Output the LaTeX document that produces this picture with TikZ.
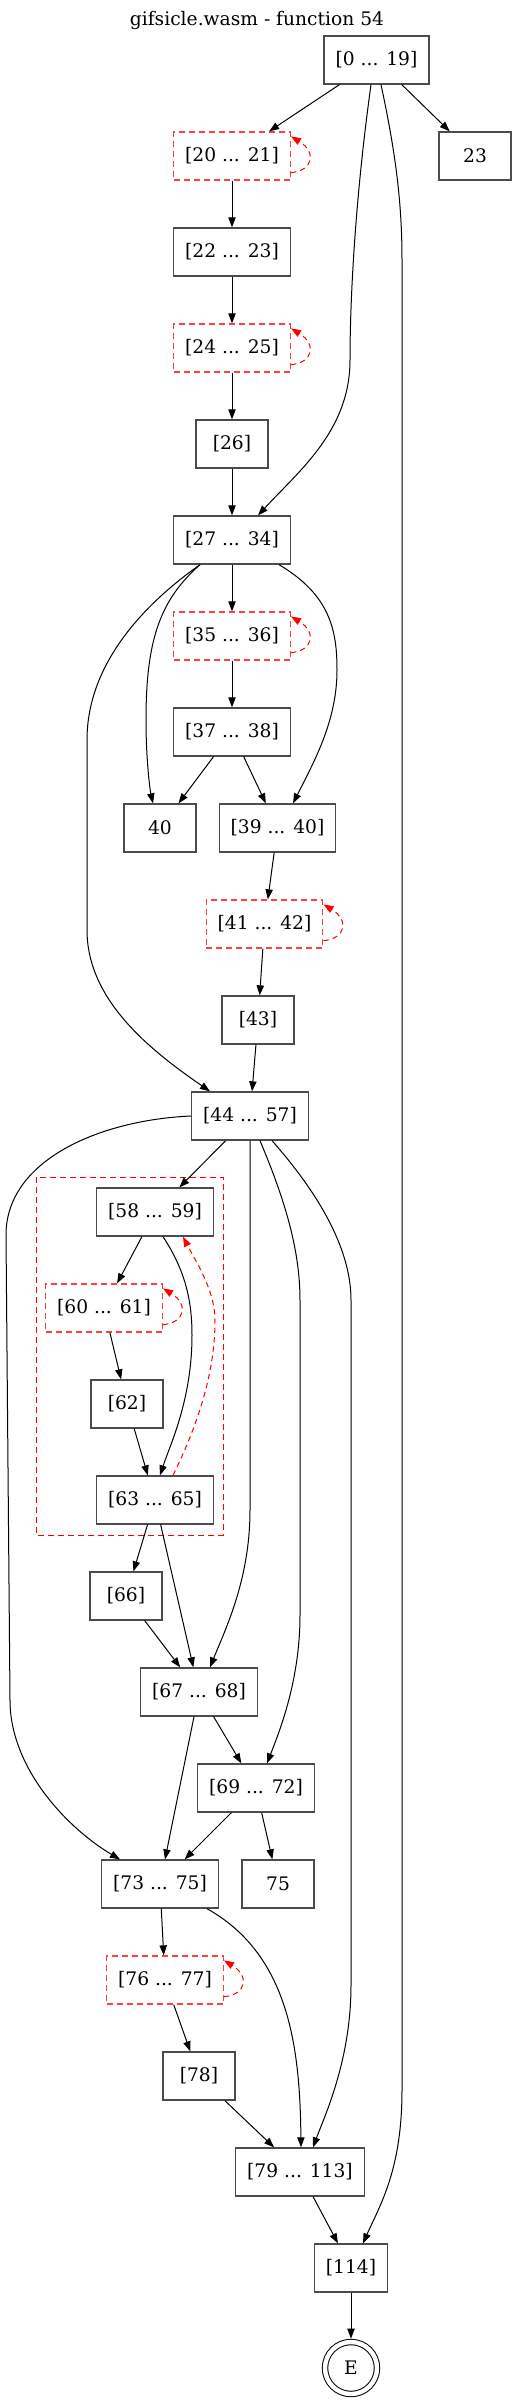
\documentclass[tikz,border=0pt]{standalone}
\usepackage{fontspec}
\setmainfont{DejaVu Serif}
\usetikzlibrary{arrows.meta,calc}
\begin{document}
\begin{tikzpicture}[x = 0.75pt, y = -0.75pt,
            font = \fontsize{14}{16}\selectfont,
            blk/.style = {draw = black!70, line width = 1pt, minimum height = 36pt, minimum width = 54pt, inner xsep = 8.6pt},
            redblk/.style = {blk, draw = red!75, dash pattern = on 4.5pt off 3pt},
            flow/.style = {line width = 0.75pt, -{Triangle[length = 7.5pt, width = 5.5pt]}},
            back/.style = {flow, red, dash pattern = on 4pt off 3pt},
            exitnode/.style = {circle, draw, double, double distance = 3.3pt, line width = 0.75pt, minimum size = 39pt, outer sep = 2.5pt}]
            \useasboundingbox (0, 0) rectangle (516, 2404);
            \node (title) at (257, 20) {gifsicle.wasm - function 54};
            \draw [red, line width = 0.75pt, dash pattern = on 4.5pt off 3pt] (36, 1177) rectangle (223, 1535);
            \node [blk] (n0) at (376.5, 60) {[0 ... 19]};
            \node [redblk] (n20) at (232, 156) {[20 ... 21]};
            \node [blk] (n23) at (475, 156) {23};
            \node [blk] (n22) at (232, 252) {[22 ... 23]};
            \node [redblk] (n24) at (232, 348) {[24 ... 25]};
            \node [blk] (n26) at (232, 444) {[26]};
            \node [blk] (n27) at (232, 540) {[27 ... 34]};
            \node [redblk] (n35) at (232, 636) {[35 ... 36]};
            \node [blk] (n37) at (232, 732) {[37 ... 38]};
            \node [blk] (n40) at (160, 828) {40};
            \node [blk] (n39) at (277.5, 828) {[39 ... 40]};
            \node [redblk] (n41) at (264.5, 924) {[41 ... 42]};
            \node [blk] (n43) at (258, 1020) {[43]};
            \node [blk] (n44) at (250, 1116) {[44 ... 57]};
            \node [blk] (n58) at (155, 1212) {[58 ... 59]};
            \node [redblk] (n60) at (104, 1308) {[60 ... 61]};
            \node [blk] (n62) at (127, 1404) {[62]};
            \node [blk] (n63) at (155, 1500) {[63 ... 65]};
            \node [blk] (n66) at (126, 1596) {[66]};
            \node [blk] (n67) at (199, 1692) {[67 ... 68]};
            \node [blk] (n69) at (256, 1788) {[69 ... 72]};
            \node [blk] (n73) at (160, 1884) {[73 ... 75]};
            \node [blk] (n75) at (278, 1884) {75};
            \node [redblk] (n76) at (165, 1980) {[76 ... 77]};
            \node [blk] (n78) at (199, 2076) {[78]};
            \node [blk] (n79) at (300, 2172) {[79 ... 113]};
            \node [blk] (n114) at (351, 2268) {[114]};
            \node [exitnode] (nE) at (351, 2368) {E};
            \foreach \a/\b in {n0/n20, n0/n23, n20/n22, n22/n24, n24/n26, n26/n27, n27/n35, n35/n37,
                n37/n40, n37/n39, n39/n41, n41/n43, n43/n44, n44/n58, n58/n60, n60/n62, n62/n63,
                n63/n66, n63/n67, n66/n67, n67/n73, n67/n69, n69/n73, n69/n75, n73/n76, n76/n78,
                n78/n79, n79/n114, n114/nE}
                \draw [flow] (\a) -- (\b);
            \foreach \r in {n20, n24, n35, n41, n60, n76}
                \draw [back] ($(\r.south east)+(0, -8)$) .. controls +(22, -2) and +(26, 16) .. ($(\r.north east)+(0, 5)$);
            \draw [flow] ($(n0.south)+(-5.5, 0)$) .. controls (355, 200) and (350, 300) .. (350, 360) .. controls (350, 430) and (300, 470) .. ($(n27.north)+(26, 0)$);
            \draw [flow] ($(n0.south)+(4.5, 0)$) .. controls (395, 150) and (402, 200) .. (402, 260) -- (402, 2090) .. controls (402, 2170) and (380, 2205) .. ($(n114.north)+(12, 0)$);
            \draw [flow] ($(n27.south)+(-32, 0)$) .. controls (150, 600) and (87, 660) .. (87, 740) -- (87, 930) .. controls (87, 1000) and (150, 1050) .. ($(n44.north)+(-40, 0)$);
            \draw [flow] ($(n27.south)+(-32, 0)$) .. controls (160, 600) and (146, 640) .. (146, 720) .. controls (146, 760) and (150, 790) .. ($(n40.north)+(-7, 0)$);
            \draw [flow] ($(n27.south)+(47, 0)$) .. controls (330, 595) and (337, 630) .. (337, 670) .. controls (337, 720) and (315, 760) .. ($(n39.north)+(15.5, 0)$);
            \draw [flow] (n44.west) .. controls (100, 1120) and (6, 1160) .. (6, 1235) -- (10, 1700) .. controls (10, 1770) and (70, 1830) .. ($(n73.north)+(-40, 0)$);
            \draw [flow] (n44.south) -- (250, 1510) .. controls (250, 1580) and (225, 1630) .. ($(n67.north)+(11, 0)$);
            \draw [flow] ($(n44.south)+(10, 0)$) .. controls (285, 1200) and (300, 1250) .. (300, 1300) -- (300, 1615) .. controls (300, 1680) and (280, 1730) .. ($(n69.north)+(11, 0)$);
            \draw [flow] ($(n44.south)+(22, 0)$) .. controls (320, 1195) and (351, 1250) .. (351, 1300) -- (351, 1985) .. controls (351, 2060) and (325, 2115) .. ($(n79.north)+(13, 0)$);
            \draw [flow] ($(n58.south)+(8, 0)$) .. controls (185, 1270) and (192, 1300) .. (192, 1335) .. controls (192, 1400) and (170, 1445) .. ($(n63.north)+(5, 0)$);
            \draw [back] ($(n63.north)+(18, 0)$) .. controls (200, 1420) and (215, 1370) .. (215, 1320) .. controls (215, 1290) and (195, 1260) .. ($(n58.south)+(28, 0)$);
            \draw [flow] ($(n73.south)+(47, 0)$) .. controls (290, 1955) and (300, 2050) .. ($(n79.north)+(1, 0)$);
        \end{tikzpicture}
\end{document}
